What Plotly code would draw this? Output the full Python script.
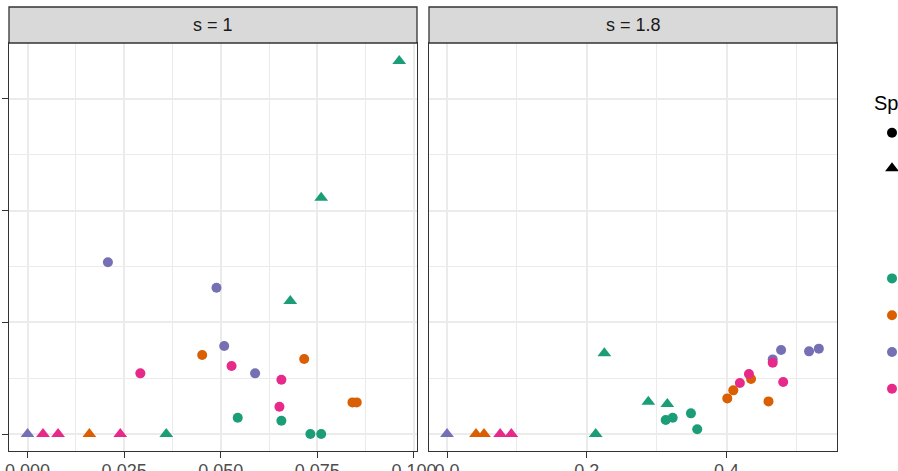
import plotly.graph_objects as go

# ---------------- data ----------------
colour_names = ["a", "b", "c", "d"]
colour_values = ["#1B9E77", "#D95F02", "#7570B3", "#E7298A"]
shape_names = ["Species 1", "Species 2"]
shape_symbols = ["circle", "triangle-up"]
shape_sizes = [10, 12]

panel_titles = ["s = 1", "s = 1.8"]

# panel s = 1
p1_x = [0.0208, 0.0489, 0.0509, 0.0589,
        0.0452, 0.0716, 0.0841, 0.0852,
        0.0528, 0.0292, 0.0657, 0.0652,
        0.0544, 0.0657, 0.0732, 0.0760,
        0.0962, 0.0760, 0.0680, 0.0359,
        0.0000,
        0.0040, 0.0079, 0.0240,
        0.0160]
p1_y = [1.537, 1.310, 0.788, 0.543,
        0.707, 0.671, 0.283, 0.283,
        0.609, 0.543, 0.486, 0.244,
        0.146, 0.119, 0.0, 0.0,
        3.34, 2.115, 1.191, 0.0,
        0.0,
        0.0, 0.0, 0.0,
        0.0]
p1_col = ["c", "c", "c", "c",
          "b", "b", "b", "b",
          "d", "d", "d", "d",
          "a", "a", "a", "a",
          "a", "a", "a", "a",
          "c",
          "d", "d", "d",
          "b"]
p1_shape = ["Species 1"] * 16 + ["Species 2"] * 9

# panel s = 1.8
p2_x = [0.0000,
        0.0415, 0.0529,
        0.0760, 0.0920,
        0.2127, 0.2251, 0.2880, 0.3152,
        0.3129, 0.3229, 0.3490, 0.3580,
        0.4010, 0.4096, 0.4350, 0.4600,
        0.4660, 0.4780, 0.5180, 0.5320,
        0.4190, 0.4320, 0.4660, 0.4810]
p2_y = [0.0,
        0.0, 0.0,
        0.0, 0.0,
        0.0, 0.722, 0.289, 0.269,
        0.125, 0.146, 0.185, 0.042,
        0.319, 0.391, 0.492, 0.292,
        0.668, 0.752, 0.740, 0.764,
        0.457, 0.537, 0.638, 0.466]
p2_col = ["c",
          "b", "b",
          "d", "d",
          "a", "a", "a", "a",
          "a", "a", "a", "a",
          "b", "b", "b", "b",
          "c", "c", "c", "c",
          "d", "d", "d", "d"]
p2_shape = ["Species 2"] * 9 + ["Species 1"] * 16

x_ranges = [[-0.0048, 0.1008], [-0.0258, 0.558]]
x_dticks = [0.025, 0.2]
x_formats = [".3f", ".1f"]
y_range = [-0.152, 3.50]
y_ticks = [0, 1, 2, 3]

# ---------------- figure ----------------
fig = go.Figure()
panels = [(p1_x, p1_y, p1_col, p1_shape), (p2_x, p2_y, p2_col, p2_shape)]
for pi, (px, py, pc, ps) in enumerate(panels):
    xa = "x" if pi == 0 else "x2"
    ya = "y" if pi == 0 else "y2"
    for cname, cval in zip(colour_names, colour_values):
        for sname, ssym, ssize in zip(shape_names, shape_symbols, shape_sizes):
            xs = [x for x, c, s in zip(px, pc, ps) if c == cname and s == sname]
            ys = [y for y, c, s in zip(py, pc, ps) if c == cname and s == sname]
            if not xs:
                continue
            fig.add_trace(go.Scatter(
                x=xs, y=ys, mode="markers", xaxis=xa, yaxis=ya,
                marker=dict(symbol=ssym, size=ssize, color=cval, line=dict(width=0)),
                showlegend=False, hoverinfo="skip"))

# legend entries
for sname, ssym, ssize in zip(shape_names, shape_symbols, shape_sizes):
    fig.add_trace(go.Scatter(x=[None], y=[None], mode="markers", name=sname,
                             marker=dict(symbol=ssym, size=ssize, color="black"),
                             legend="legend", showlegend=True))
for cname, cval in zip(colour_names, colour_values):
    fig.add_trace(go.Scatter(x=[None], y=[None], mode="markers", name=cname,
                             marker=dict(symbol="circle", size=10, color=cval),
                             legend="legend2", showlegend=True))

W, H = 898, 471
ml, mr, mt, mb = 9, 61, 7, 20
pw = W - ml - mr
ph = H - mt - mb
d1 = [0, (417 - ml) / pw]
d2 = [(429 - ml) / pw, 1]
ytop = (451 - 43) / ph

border = "#333333"
grid = "#EBEBEB"
font_family = "Liberation Sans, Arial"
axis_common = dict(showline=True, mirror=True, linecolor=border, linewidth=1.3,
                   showgrid=True, gridcolor=grid, gridwidth=1.5, zeroline=False,
                   automargin=False)

for i, (dom, rng, dt, fmt) in enumerate(zip([d1, d2], x_ranges, x_dticks, x_formats)):
    key = "xaxis" if i == 0 else "xaxis2"
    fig.layout[key] = dict(domain=dom, range=rng, tick0=0, dtick=dt, tickformat=fmt,
                           ticks="outside", ticklen=6, tickwidth=1.3, tickcolor=border,
                           ticklabelstandoff=-3,
                           tickfont=dict(family=font_family, size=18, color="#4D4D4D"),
                           minor=dict(dtick=dt / 2, showgrid=True, gridcolor=grid, gridwidth=0.8),
                           anchor="y" if i == 0 else "y2", **axis_common)

fig.layout.yaxis = dict(domain=[0, ytop], range=y_range, tickvals=y_ticks,
                        ticks="outside", ticklen=6, tickwidth=1.3, tickcolor=border,
                        ticklabelstandoff=12,
                        tickfont=dict(family=font_family, size=18, color="#4D4D4D"),
                        minor=dict(dtick=0.5, showgrid=True, gridcolor=grid, gridwidth=0.8),
                        anchor="x", **axis_common)
fig.layout.yaxis2 = dict(domain=[0, ytop], range=y_range, tickvals=y_ticks, matches="y",
                         showticklabels=False, ticks="",
                         minor=dict(dtick=0.5, showgrid=True, gridcolor=grid, gridwidth=0.8),
                         anchor="x2", **axis_common)

shapes = []
annotations = []
for i, title in enumerate(panel_titles):
    xref = "x domain" if i == 0 else "x2 domain"
    shapes.append(dict(type="rect", xref=xref, yref="paper", x0=0, x1=1, y0=ytop, y1=1,
                       fillcolor="#D9D9D9", line=dict(color=border, width=1.3), layer="above"))
    annotations.append(dict(text=title, xref=xref, yref="paper", x=0.5, y=(ytop + 1) / 2,
                            showarrow=False, xanchor="center", yanchor="middle",
                            font=dict(family=font_family, size=18, color="#1A1A1A")))

fig.update_layout(
    width=W, height=H,
    margin=dict(l=ml, r=mr, t=mt, b=mb, autoexpand=False),
    paper_bgcolor="white", plot_bgcolor="white",
    shapes=shapes, annotations=annotations,
    legend=dict(x=(872 - ml) / pw, xanchor="left", y=(451 - 84) / ph, yanchor="top",
                bgcolor="rgba(0,0,0,0)", borderwidth=0,
                title=dict(text="Species", font=dict(family=font_family, size=20, color="black")),
                font=dict(family=font_family, size=25, color="black"),
                itemsizing="trace"),
    legend2=dict(x=(872 - ml) / pw, xanchor="left", y=(451 - 255) / ph, yanchor="top",
                 bgcolor="rgba(0,0,0,0)", borderwidth=0,
                 font=dict(family=font_family, size=26, color="black"),
                 itemsizing="trace"),
)

fig.write_html("out.html")
